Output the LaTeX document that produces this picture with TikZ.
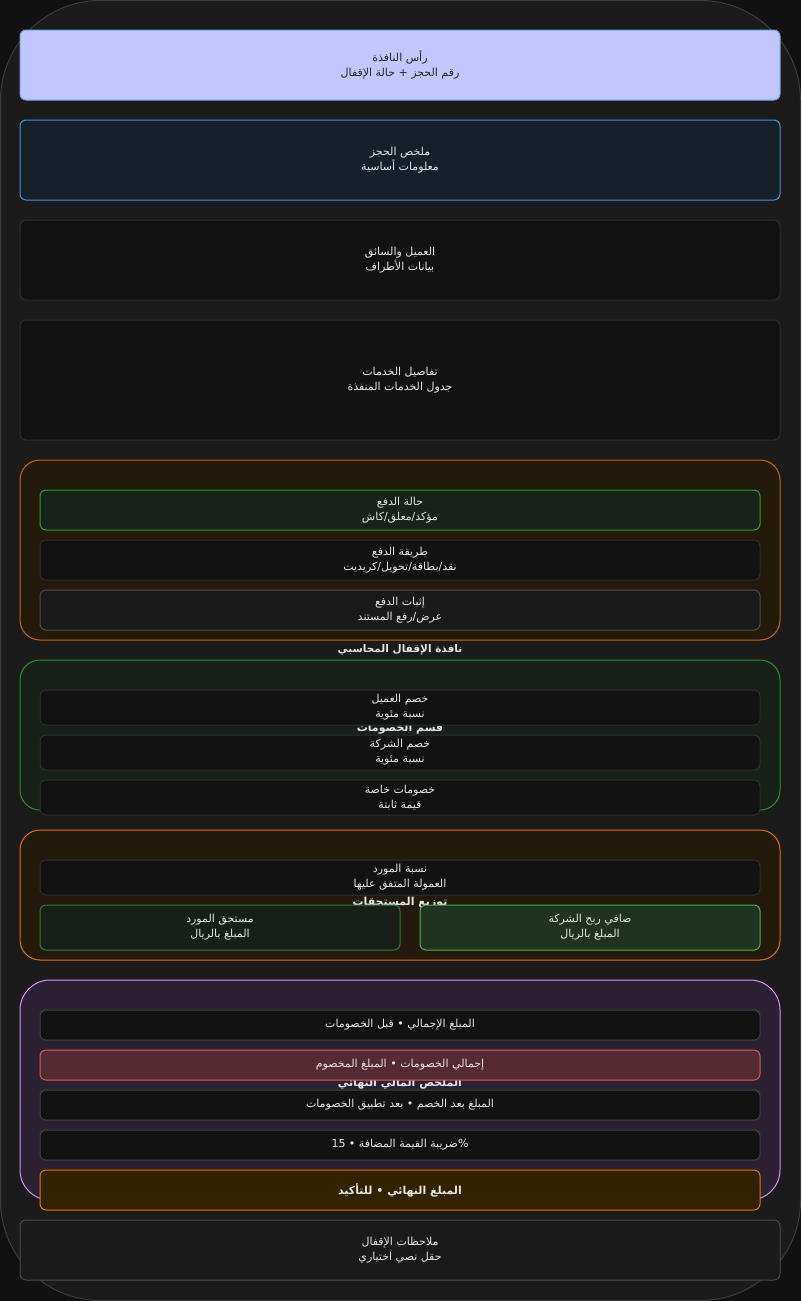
\documentclass[tikz,border=0pt]{standalone}
\usepackage{fontspec}
\newfontfamily\arabicfont[Script=Arabic]{DejaVu Sans}
\TeXXeTstate=1
\usepackage{tikz}
\usetikzlibrary{positioning}
\usepackage{xcolor}
\definecolor{pagebg}{HTML}{111111}
\definecolor{panelfill}{HTML}{1B1B1B}
\definecolor{panelline}{HTML}{3C3C3C}
\definecolor{headfill}{HTML}{C0C8FF}
\definecolor{headline}{HTML}{6FA8EC}
\definecolor{sumfill}{HTML}{16202A}
\definecolor{sumline}{HTML}{4A90E2}
\definecolor{cardfill}{HTML}{121212}
\definecolor{cardline}{HTML}{2E2E2E}
\definecolor{payfill}{HTML}{231A0A}
\definecolor{payline}{HTML}{C86414}
\definecolor{okfill}{HTML}{17221A}
\definecolor{okline}{HTML}{2F9A35}
\definecolor{prooffill}{HTML}{1A1A1A}
\definecolor{proofline}{HTML}{4A4A4A}
\definecolor{discfill}{HTML}{18201A}
\definecolor{discline}{HTML}{2E8B35}
\definecolor{distfill}{HTML}{241A0C}
\definecolor{distline}{HTML}{E8700A}
\definecolor{duefill}{HTML}{162018}
\definecolor{dueline}{HTML}{2E7D32}
\definecolor{profitfill}{HTML}{1E3320}
\definecolor{profitline}{HTML}{4CAF50}
\definecolor{finfill}{HTML}{2C2133}
\definecolor{finline}{HTML}{D890F0}
\definecolor{lossfill}{HTML}{562A32}
\definecolor{lossline}{HTML}{D85A5A}
\definecolor{amberfill}{HTML}{332200}
\definecolor{amberline}{HTML}{F07010}
\definecolor{txt}{HTML}{E6E6E6}
\newcommand{\artext}[1]{\beginR #1\endR}

\begin{document}
\begin{tikzpicture}[x=1pt, y=-1pt, line width=1pt,
    card/.style={rectangle, rounded corners=6pt, draw=cardline, fill=cardfill, text=txt,
                 align=center, inner sep=0pt, font=\arabicfont\fontsize{11}{15}\selectfont},
    wide/.style={card, minimum width=760pt},
    row/.style={card, minimum width=720pt},
    group/.style={rectangle, rounded corners=20pt, inner sep=0pt, minimum width=760pt},
    grouplabel/.style={text=txt, font=\arabicfont\fontsize{11}{13}\selectfont\bfseries}
]
\useasboundingbox (0,0) rectangle (801,1301);
\fill[pagebg] (0,0) rectangle (801,1301);
\draw[panelline, fill=panelfill, rounded corners=100pt] (0.5,0.5) rectangle (800.5,1300.5);

% Top cards
\node[wide, fill=headfill, draw=headline, text=black!85, minimum height=70pt] (header) at (400,65)
    {\artext{رأس النافذة}\\\artext{رقم الحجز + حالة الإقفال}};
\node[wide, fill=sumfill, draw=sumline, minimum height=80pt] (summary) at (400,160)
    {\artext{ملخص الحجز}\\\artext{معلومات أساسية}};
\node[wide, minimum height=80pt] (parties) at (400,260)
    {\artext{العميل والسائق}\\\artext{بيانات الأطراف}};
\node[wide, minimum height=120pt] (services) at (400,380)
    {\artext{تفاصيل الخدمات}\\\artext{جدول الخدمات المنفذة}};

% Payment section
\node[group, fill=payfill, draw=payline, minimum height=180pt] (paygroup) at (400,550) {};
\node[grouplabel] (paylabel) at (400,550) {\artext{قسم الدفع}};
\node[row, fill=okfill, draw=okline, minimum height=40pt] (paystatus) at (400,510)
    {\artext{حالة الدفع}\\\artext{مؤكد/معلق/كاش}};
\node[row, minimum height=40pt] (paymethod) at (400,560)
    {\artext{طريقة الدفع}\\\artext{نقد/بطاقة/تحويل/كريديت}};
\node[row, fill=prooffill, draw=proofline, minimum height=40pt] (payproof) at (400,610)
    {\artext{إثبات الدفع}\\\artext{عرض/رفع المستند}};

\node[grouplabel, font=\arabicfont\fontsize{10.5}{13}\selectfont\bfseries] (title) at (400,650)
    {\artext{نافذة الإقفال المحاسبي}};

% Discounts section
\node[group, fill=discfill, draw=discline, minimum height=150pt] (discgroup) at (400,735) {};
\node[grouplabel] (disclabel) at (400,729) {\artext{قسم الخصومات}};
\node[row, minimum height=35pt] (disccust) at (400,707.5)
    {\artext{خصم العميل}\\\artext{نسبة مئوية}};
\node[row, minimum height=35pt] (disccomp) at (400,752.5)
    {\artext{خصم الشركة}\\\artext{نسبة مئوية}};
\node[row, minimum height=35pt] (discspecial) at (400,797.5)
    {\artext{خصومات خاصة}\\\artext{قيمة ثابتة}};

% Distribution section
\node[group, fill=distfill, draw=distline, minimum height=130pt] (distgroup) at (400,895) {};
\node[grouplabel] (distlabel) at (400,903) {\artext{توزيع المستحقات}};
\node[row, minimum height=35pt] (supratio) at (400,877.5)
    {\artext{نسبة المورد}\\\artext{العمولة المتفق عليها}};
\node[card, fill=duefill, draw=dueline, minimum width=360pt, minimum height=45pt] (supdue) at (220,927.5)
    {\artext{مستحق المورد}\\\artext{المبلغ بالريال}};
\node[card, fill=profitfill, draw=profitline, minimum width=340pt, minimum height=45pt] (profit) at (590,927.5)
    {\artext{صافي ربح الشركة}\\\artext{المبلغ بالريال}};

% Final summary
\node[group, rounded corners=30pt, fill=finfill, draw=finline, minimum height=220pt] (fingroup) at (400,1090) {};
\node[grouplabel] (finlabel) at (400,1084) {\artext{الملخص المالي النهائي}};
\node[row, draw=cardfill!80!white, minimum height=30pt] (gross) at (400,1025)
    {\artext{المبلغ الإجمالي • قبل الخصومات}};
\node[row, fill=lossfill, draw=lossline, minimum height=30pt] (totdisc) at (400,1065)
    {\artext{إجمالي الخصومات • المبلغ المخصوم}};
\node[row, draw=cardfill!80!white, minimum height=30pt] (afterdisc) at (400,1105)
    {\artext{المبلغ بعد الخصم • بعد تطبيق الخصومات}};
\node[row, draw=cardfill!80!white, minimum height=30pt] (vat) at (400,1145)
    {\artext{\%ضريبة القيمة المضافة • \beginL15\endL}};
\node[row, fill=amberfill, draw=amberline, minimum height=40pt,
      font=\arabicfont\fontsize{11}{15}\selectfont\bfseries] (final) at (400,1190)
    {\artext{المبلغ النهائي • للتأكيد}};

% Notes
\node[wide, fill=prooffill, draw=proofline, minimum height=60pt] (notes) at (400,1250)
    {\artext{ملاحظات الإقفال}\\\artext{حقل نصي اختياري}};

\end{tikzpicture}
\end{document}
